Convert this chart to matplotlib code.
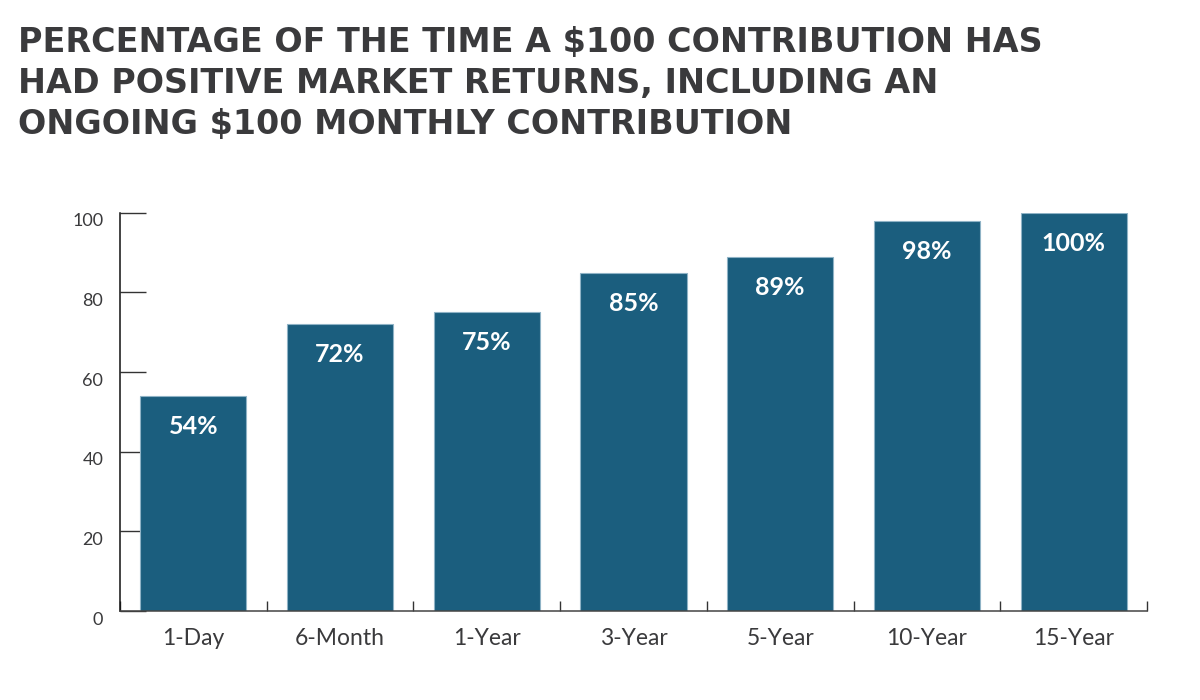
import matplotlib
matplotlib.use("Agg")
import matplotlib.pyplot as plt
import matplotlib.transforms as mtransforms
import numpy as np

# data
periods = ["1-Day", "6-Month", "1-Year", "3-Year", "5-Year", "10-Year", "15-Year"]
pct_positive = [54, 72, 75, 85, 89, 98, 100]
y_ticks = [0, 20, 40, 60, 80, 100]
title_lines = [
    "PERCENTAGE OF THE TIME A $100 CONTRIBUTION HAS",
    "HAD POSITIVE MARKET RETURNS, INCLUDING AN",
    "ONGOING $100 MONTHLY CONTRIBUTION",
]

BAR_COLOR = "#1b5e7e"
TEXT_DARK = "#3a3a3c"

plt.rcParams["font.family"] = ["Lato", "DejaVu Sans"]

fig = plt.figure(figsize=(12, 7), dpi=100)
ax = fig.add_axes([0.1, 0.1271, 0.8558, 0.5689])

x = np.arange(len(periods))
bars = ax.bar(x, pct_positive, width=0.723, color=BAR_COLOR,
              edgecolor="#8fb3c6", linewidth=0.8, zorder=2)

# value labels inside the bars
for rect, val in zip(bars, pct_positive):
    ax.annotate(f"{val}%", (rect.get_x() + rect.get_width() / 2, rect.get_height()),
                xytext=(0, -22), textcoords="offset points",
                ha="center", va="center", color="white",
                fontsize=18, fontweight="bold")

ax.set_xlim(-0.5, len(periods) - 0.5)
ax.set_ylim(0, 100)

# y axis
ax.set_yticks(y_ticks)
ax.set_yticklabels([str(t) for t in y_ticks], fontsize=13, color=TEXT_DARK)
ax.tick_params(axis="y", direction="in", length=19, width=1.0,
               color="#333333", pad=12)
offset = mtransforms.ScaledTranslation(0, -7 / 100, fig.dpi_scale_trans)
for lbl in ax.get_yticklabels():
    lbl.set_transform(lbl.get_transform() + offset)

# x axis: labels at centres, small ticks at category boundaries
ax.set_xticks(x)
ax.set_xticklabels(periods, fontsize=16.5, color=TEXT_DARK)
ax.tick_params(axis="x", which="major", length=0, pad=12)
ax.set_xticks(np.arange(-0.5, len(periods)), minor=True)
ax.tick_params(axis="x", which="minor", direction="in", length=7,
               width=1.0, color="#333333")

for side in ["top", "right"]:
    ax.spines[side].set_visible(False)
ax.spines["left"].set_color("#111111")
ax.spines["left"].set_linewidth(1.1)
ax.spines["bottom"].set_color("#444444")
ax.spines["bottom"].set_linewidth(1.1)

# title, one text per line
for i, line in enumerate(title_lines):
    fig.text(18 / 1200, 1 - (52 + 41 * i) / 700, line, ha="left", va="baseline",
             fontsize=24, fontweight="heavy", color=TEXT_DARK,
             family=["DejaVu Sans"])

fig.savefig("out.png", dpi=100)
